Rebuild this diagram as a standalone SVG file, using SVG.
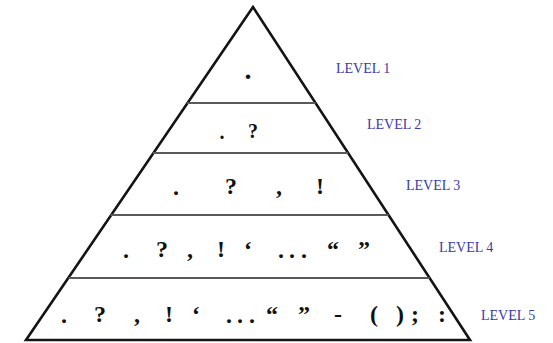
<svg xmlns="http://www.w3.org/2000/svg" width="553" height="343" viewBox="0 0 553 343">
<style>
.tri{fill:none;stroke:#141414;stroke-width:2.6;stroke-linejoin:miter}
.sep{stroke:#5a5a5a;stroke-width:1.8}
.p{font-family:"Liberation Serif","Times New Roman",serif;font-weight:bold;font-size:24px;fill:#111;text-anchor:middle}
.e{font-family:"Liberation Serif","Times New Roman",serif;font-weight:bold;font-size:24px;fill:#111}
.p2{font-size:20px}
.p1{font-size:28px}
.lbl{font-family:"Liberation Serif","Times New Roman",serif;font-size:14px;fill:#3a3aa8}
</style>
<rect width="553" height="343" fill="#fff"/>
<g id="pyramid">
<polygon class="tri" points="253,7 26,340 470,340"/>
</g>
<g id="separators">
<line class="sep" x1="187" y1="103" x2="315.6" y2="103"/>
<line class="sep" x1="152.8" y1="153" x2="348.1" y2="153"/>
<line class="sep" x1="110.5" y1="215" x2="388.6" y2="215"/>
<line class="sep" x1="68.5" y1="278" x2="429.6" y2="278"/>
</g>
<g id="level1">
<text class="p p1" x="248" y="79">.</text>
<text class="lbl" x="336" y="73">LEVEL 1</text>
</g>
<g id="level2">
<text class="p p2" x="222" y="139">.</text>
<text class="p p2" x="253" y="138">?</text>
<text class="lbl" x="367" y="129">LEVEL 2</text>
</g>
<g id="level3">
<text class="p" x="176" y="195">.</text>
<text class="p" x="231" y="194">?</text>
<text class="p" x="279" y="194">,</text>
<text class="p" x="320" y="194">!</text>
<text class="lbl" x="406" y="190">LEVEL 3</text>
</g>
<g id="level4">
<text class="p" x="126" y="258">.</text>
<text class="p" x="162" y="257">?</text>
<text class="p" x="190" y="257">,</text>
<text class="p" x="221" y="257">!</text>
<text class="p" x="248" y="257">‘</text>
<text class="e" x="278 289 301" y="258">...</text>
<text class="p" x="333" y="257">“</text>
<text class="p" x="364" y="257">”</text>
<text class="lbl" x="439" y="252">LEVEL 4</text>
</g>
<g id="level5">
<text class="p" x="64" y="323">.</text>
<text class="p" x="100" y="322">?</text>
<text class="p" x="137" y="322">,</text>
<text class="p" x="169" y="322">!</text>
<text class="p" x="196" y="322">‘</text>
<text class="e" x="226 237 249" y="323">...</text>
<text class="p" x="272" y="322">“</text>
<text class="p" x="304" y="322">”</text>
<text class="p" x="338" y="322">-</text>
<text class="p" x="374" y="322">(</text>
<text class="p" x="400" y="322">)</text>
<text class="p" x="415" y="322">;</text>
<text class="p" x="442" y="322">:</text>
<text class="lbl" x="481" y="320">LEVEL 5</text>
</g>
</svg>
